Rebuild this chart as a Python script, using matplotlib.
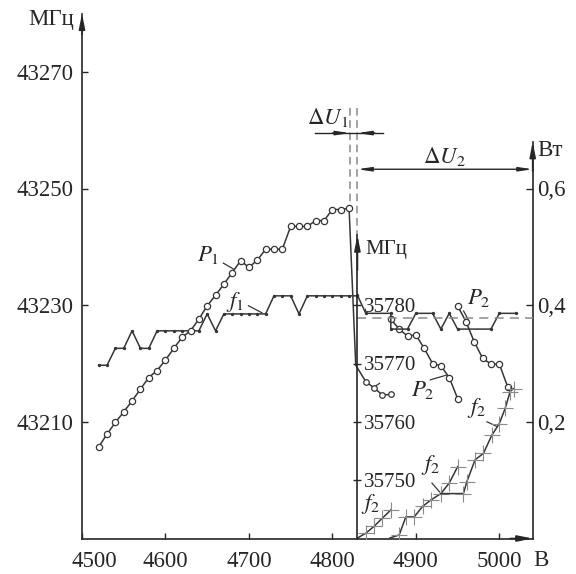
import matplotlib
matplotlib.use("Agg")
import matplotlib.pyplot as plt
import matplotlib.transforms as mtransforms

plt.rcParams['font.family'] = ['Liberation Serif', 'DejaVu Serif']
plt.rcParams['mathtext.fontset'] = 'stix'

# P1, Вт (правая шкала)
p1_u = [4520, 4530, 4540, 4550, 4560, 4570, 4580, 4590, 4600, 4610, 4620,
        4630, 4640, 4650, 4660, 4670, 4680, 4690, 4700, 4710, 4720, 4730,
        4740, 4750, 4760, 4770, 4780, 4790, 4800, 4810, 4820]
p1_w = [0.157, 0.179, 0.199, 0.217, 0.236, 0.256, 0.276, 0.288, 0.306, 0.326,
        0.345, 0.356, 0.376, 0.399, 0.417, 0.436, 0.456, 0.476, 0.465, 0.477,
        0.496, 0.496, 0.496, 0.535, 0.535, 0.535, 0.545, 0.545, 0.564, 0.564,
        0.566]
# P2 (три ветви), Вт
p2a_u = [4828, 4840, 4850, 4860, 4870]
p2a_w = [0.297, 0.269, 0.258, 0.246, 0.247]
p2b_u = [4870, 4880, 4890, 4900, 4910, 4920, 4930, 4940, 4950]
p2b_w = [0.376, 0.359, 0.347, 0.349, 0.326, 0.300, 0.296, 0.276, 0.240]
p2c_u = [4950, 4960, 4970, 4980, 4990, 5000, 5010]
p2c_w = [0.399, 0.372, 0.337, 0.309, 0.299, 0.299, 0.260]

# f1, МГц (левая шкала)
f1_u = [4520, 4530, 4540, 4550, 4560, 4570, 4580, 4590, 4600, 4610, 4620,
        4630, 4640, 4650, 4660, 4670, 4680, 4690, 4700, 4710, 4720, 4730,
        4740, 4750, 4760, 4770, 4780, 4790, 4800, 4810, 4820, 4830]
f1_f = [43219.7, 43219.7, 43222.6, 43222.6, 43225.6, 43222.6, 43222.6,
        43225.6, 43225.6, 43225.6, 43225.6, 43225.6, 43225.6, 43228.5,
        43225.6, 43228.5, 43228.5, 43228.5, 43228.5, 43228.5, 43228.5,
        43231.6, 43231.6, 43231.6, 43228.5, 43231.6, 43231.6, 43231.6,
        43231.6, 43231.6, 43231.6, 43231.6]
# продолжение, МГц (средняя шкала)
f1b_u = [4830, 4840, 4870, 4870, 4890, 4900, 4920, 4930, 4940, 4950, 4990,
         5000, 5020]
f1b_f = [35781.7, 35778.6, 35778.6, 35775.9, 35775.9, 35778.6, 35778.6,
         35775.9, 35778.6, 35775.9, 35775.9, 35778.6, 35778.6]

# f2 (три ветви), МГц (средняя шкала)
f2a_u = [4829, 4840, 4850, 4860, 4870]
f2a_f = [35740.0, 35740.9, 35742.1, 35743.5, 35744.9]
f2b_u = [4869, 4880, 4888, 4898, 4908, 4918, 4930, 4940, 4950]
f2b_f = [35740.1, 35740.6, 35743.7, 35743.7, 35745.5, 35746.6, 35747.7,
         35749.5, 35752.3]
f2c_u = [4930, 4957, 4961, 4971, 4981, 4991, 5000, 5007, 5013, 5017]
f2c_f = [35747.7, 35747.7, 35749.7, 35753.5, 35754.6, 35757.7, 35759.7,
         35762.3, 35765.2, 35765.7]

u_ticks = [4500, 4600, 4700, 4800, 4900, 5000]
f_left_ticks = [43210, 43230, 43250, 43270]
f_mid_ticks = [35750, 35760, 35770, 35780]
w_ticks = [0.2, 0.4, 0.6]
w_labels = ['0,2', '0,4', '0,6']

ink = '#262626'
line_c = '#363636'
gray = '#8a8a8a'

fig = plt.figure(figsize=(5.76, 5.74), dpi=100)
ax = fig.add_axes([82 / 576, 1 - 538.5 / 574, 450.7 / 576, 525 / 574])
ax.set_xlim(4500, 5040)
ax.set_ylim(43190, 43280)
ax.patch.set_alpha(0)

axW = ax.twinx()
axW.set_ylim(0, 0.9)
axM = ax.twinx()
axM.set_ylim(35740, 35830)

for a in (ax, axW, axM):
    for s in a.spines.values():
        s.set_visible(False)
        s.set_color(ink)
        s.set_linewidth(1.2)

ax.spines['left'].set_visible(True)
ax.spines['bottom'].set_visible(True)
axW.spines['right'].set_visible(True)
axW.spines['right'].set_bounds(0, 0.68)
axM.spines['right'].set_visible(True)
axM.spines['right'].set_position(('data', 4830))
axM.spines['right'].set_bounds(35740, 35792)

ax.set_xticks(u_ticks)
ax.set_yticks(f_left_ticks)
ax.tick_params(direction='in', length=4, width=1, colors=ink, labelsize=16.5, pad=6)
ax.tick_params(axis='x', pad=9)
axW.set_yticks(w_ticks)
axW.set_yticklabels(w_labels)
axW.tick_params(direction='in', length=5, width=1, colors=ink, labelsize=16.5, pad=3)
axM.set_yticks(f_mid_ticks)
axM.tick_params(direction='inout', length=6, width=1, colors=ink, labelsize=15, pad=2)

off = mtransforms.ScaledTranslation(0.12, 0, fig.dpi_scale_trans)
lab = ax.get_xticklabels()[0]
lab.set_transform(lab.get_transform() + off)

# стрелки осей
arr = dict(arrowstyle='-|>,head_width=0.18,head_length=0.9', color=ink, lw=1.2,
           shrinkA=0, shrinkB=0)
ax.annotate('', xy=(0, 1), xytext=(0, 0.96), xycoords='axes fraction', arrowprops=arr)
ax.annotate('', xy=(1, 0), xytext=(0.95, 0), xycoords='axes fraction', arrowprops=arr)
axW.annotate('', xy=(5040, 0.68), xytext=(5040, 0.63), arrowprops=arr)
axM.annotate('', xy=(4830, 35792), xytext=(4830, 35786), arrowprops=arr)

# кривые P
axW.plot(p1_u + p2a_u, p1_w + p2a_w, color=line_c, lw=1.1)
axW.plot(p1_u, p1_w, 'o', ms=4.5, mfc='white', mec=line_c, mew=0.9)
axW.plot(p2a_u[1:], p2a_w[1:], 'o', ms=4, mfc='white', mec=line_c, mew=0.9)
for u, w in ((p2b_u, p2b_w), (p2c_u, p2c_w)):
    axW.plot(u, w, '-o', color=line_c, lw=1.1, ms=4.5, mfc='white', mec=line_c, mew=0.9)

# кривые f
ax.plot(f1_u, f1_f, '-o', color=line_c, lw=1.1, ms=1.4)
axM.plot(f1b_u, f1b_f, '-o', color=line_c, lw=1.1, ms=1.4)
for u, f in ((f2a_u, f2a_f), (f2b_u, f2b_f), (f2c_u, f2c_f)):
    axM.plot(u, f, color=line_c, lw=1.1)
    axM.plot(u[1:], f[1:], '+', ms=11, mew=0.8, color=gray)

axM.plot([4830, 5040], [35777.75, 35777.75], '--', color=gray, lw=1.1, dashes=(6, 4))

# ΔU1, ΔU2
for u, top in ((4821, 43247.2), (4830, 43242.0)):
    ax.plot([u, u], [43263.8, top], '--', color=gray, lw=1.1, dashes=(5, 3))
ax.plot([4779, 4861], [43259.5, 43259.5], color=ink, lw=1)
dim = dict(arrowstyle='-|>,head_width=0.12,head_length=0.8', color=ink, lw=1,
           shrinkA=0, shrinkB=0)
ax.annotate('', xy=(4821, 43259.5), xytext=(4800, 43259.5), arrowprops=dim)
ax.annotate('', xy=(4830, 43259.5), xytext=(4851, 43259.5), arrowprops=dim)
ax.annotate('', xy=(5040, 43253.3), xytext=(4830, 43253.3),
            arrowprops=dict(arrowstyle='<|-|>,head_width=0.12,head_length=0.8',
                            color=ink, lw=1, shrinkA=0, shrinkB=0))
ax.text(4793.8, 43262.1, r'$\Delta U_1$', fontsize=16.5, ha='center', va='center', color=ink)
ax.text(4934, 43255.4, r'$\Delta U_2$', fontsize=16.5, ha='center', va='center', color=ink)

# подписи кривых
labels = [
    (r'$P_1$', 4651.4, 43238.6, (4669.4, 4681.4), (43237.2, 43236.2)),
    (r'$f_1$', 4683.5, 43230.6, (4699.4, 4715.5), (43229.9, 43228.7)),
    (r'$P_2$', 4908.0, 43215.5, (4917.3, 4936.5), (43217.2, 43218.0)),
    (r'$P_2$', 4976.0, 43231.2, (4957.2, 4962.5), (43229.0, 43227.6)),
    (r'$f_2$', 4973.3, 43212.3, (4985.3, 4997.2), (43210.0, 43209.2)),
    (r'$f_2$', 4918.1, 43202.6, (4919.3, 4928.4), (43199.5, 43198.0)),
    (r'$f_2$', 4845.3, 43196.0, None, None),
]
for txt, x, y, lx, ly in labels:
    ax.text(x, y, txt, fontsize=16.5, ha='center', va='center', color=ink)
    if lx:
        ax.plot(lx, ly, color=line_c, lw=0.9)
ax.plot([4849.3, 4856.5], [43215.9, 43216.6], color=line_c, lw=0.9)

ax.text(4864.5, 43239.6, 'МГц', fontsize=15, ha='center', va='center', color=ink)
fig.text(51 / 576, 1 - 20 / 574, 'МГц', fontsize=16.5, ha='center', va='center', color=ink)
fig.text(550 / 576, 1 - 150 / 574, 'Вт', fontsize=16.5, ha='center', va='center', color=ink)
fig.text(541 / 576, 1 - 561 / 574, 'В', fontsize=16.5, ha='center', va='center', color=ink)

fig.savefig('out.png', dpi=100)
